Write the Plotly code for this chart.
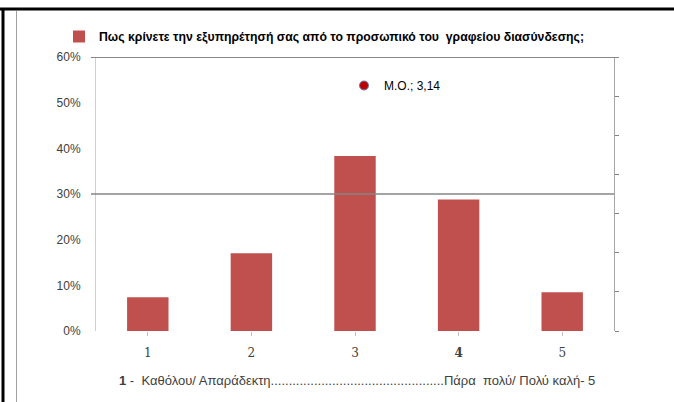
import plotly.graph_objects as go

categories = [1, 2, 3, 4, 5]
tick_labels = ["1", "2", "3", "<b>4</b>", "5"]
shares = [0.074, 0.170, 0.383, 0.288, 0.085]
series_name = "Πως κρίνετε την εξυπηρέτησή σας από το προσωπικό του  γραφείου διασύνδεσης;"
mean_label = "Μ.Ο.; 3,14"
y_ticks = [0, 0.1, 0.2, 0.3, 0.4, 0.5, 0.6]
scale_text = "<b>1</b> -  Καθόλου/ Απαράδεκτη" + "." * 48 + "Πάρα  πολύ/ Πολύ καλή- 5"

W, H = 674, 402
L, R, T, B = 96, 60, 57, 71
pw, ph = W - L - R, H - T - B


def px(x):
    return (x - L) / pw


def py(y):
    return (H - B - y) / ph


fig = go.Figure()
fig.add_trace(go.Bar(
    x=categories, y=shares, name=series_name,
    marker=dict(color="#c0504d", line=dict(width=0)),
    width=0.4, legend="legend", showlegend=True,
))
fig.add_trace(go.Scatter(
    x=[None], y=[None], name=mean_label, mode="markers",
    marker=dict(color="#c00000", size=9, line=dict(color="#5b7fb5", width=1)),
    legend="legend2", yaxis="y2", showlegend=True,
))

fig.update_layout(
    width=W, height=H,
    margin=dict(l=L, r=R, t=T, b=B),
    paper_bgcolor="white", plot_bgcolor="white",
    showlegend=True,
    font=dict(family="Liberation Sans, Arial, sans-serif", size=12, color="#404040"),
    xaxis=dict(
        range=[0.5, 5.5], tickvals=categories, ticktext=tick_labels,
        tickson="boundaries", ticks="outside", ticklen=4, tickcolor="#c0c0c0",
        showline=False, showgrid=False, zeroline=False,
        tickfont=dict(family="DejaVu Serif, Liberation Serif, serif", size=12, color="#404040"),
        ticklabelstandoff=7,
    ),
    yaxis=dict(
        range=[0, 0.6], tickvals=y_ticks, tickformat=".0%",
        showline=True, linecolor="#d0d0d0", linewidth=1,
        showgrid=False, zeroline=False, ticks="",
        tickfont=dict(size=12, color="#404040"),
        ticklabelstandoff=12,
    ),
    yaxis2=dict(
        overlaying="y", side="right", range=[0, 7], dtick=1,
        showticklabels=False, ticks="outside", ticklen=4, tickcolor="#808080",
        showline=True, linecolor="#a6a6a6", linewidth=1,
        showgrid=False, zeroline=False,
    ),
    legend=dict(
        x=px(59), y=py(22), xanchor="left", yanchor="top",
        font=dict(family="Liberation Sans Narrow, Liberation Sans, Arial, sans-serif", size=12.25, color="#000000", weight="bold"),
        bgcolor="rgba(0,0,0,0)", itemwidth=30,
    ),
    legend2=dict(
        x=px(344), y=py(71), xanchor="left", yanchor="top",
        font=dict(size=12, color="#000000"),
        bgcolor="rgba(0,0,0,0)", itemwidth=30,
    ),
    shapes=[
        dict(type="line", xref="paper", yref="y", x0=px(91), x1=px(614), y0=0.3, y1=0.3,
             line=dict(color="#868686", width=1.5), layer="above"),
        dict(type="line", xref="paper", yref="y", x0=px(91), x1=px(619), y0=0.6, y1=0.6,
             line=dict(color="#868686", width=2), layer="above"),
        dict(type="line", xref="paper", yref="paper", x0=px(0), x1=px(674), y0=py(9), y1=py(9),
             line=dict(color="#000000", width=3), layer="above"),
        dict(type="line", xref="paper", yref="paper", x0=px(3), x1=px(3), y0=py(8), y1=py(402),
             line=dict(color="#000000", width=3), layer="above"),
        dict(type="line", xref="paper", yref="paper", x0=px(16.5), x1=px(16.5), y0=py(11), y1=py(402),
             line=dict(color="#a0a0a0", width=1), layer="above"),
    ],
    annotations=[
        dict(text=scale_text, xref="paper", yref="paper", x=px(117), y=py(380),
             xanchor="left", yanchor="middle", showarrow=False,
             font=dict(size=13, color="#404040")),
    ],
)

fig.write_html("out.html", config={"displayModeBar": False},
               post_script="document.body.style.margin='0';document.body.style.overflow='hidden';")
